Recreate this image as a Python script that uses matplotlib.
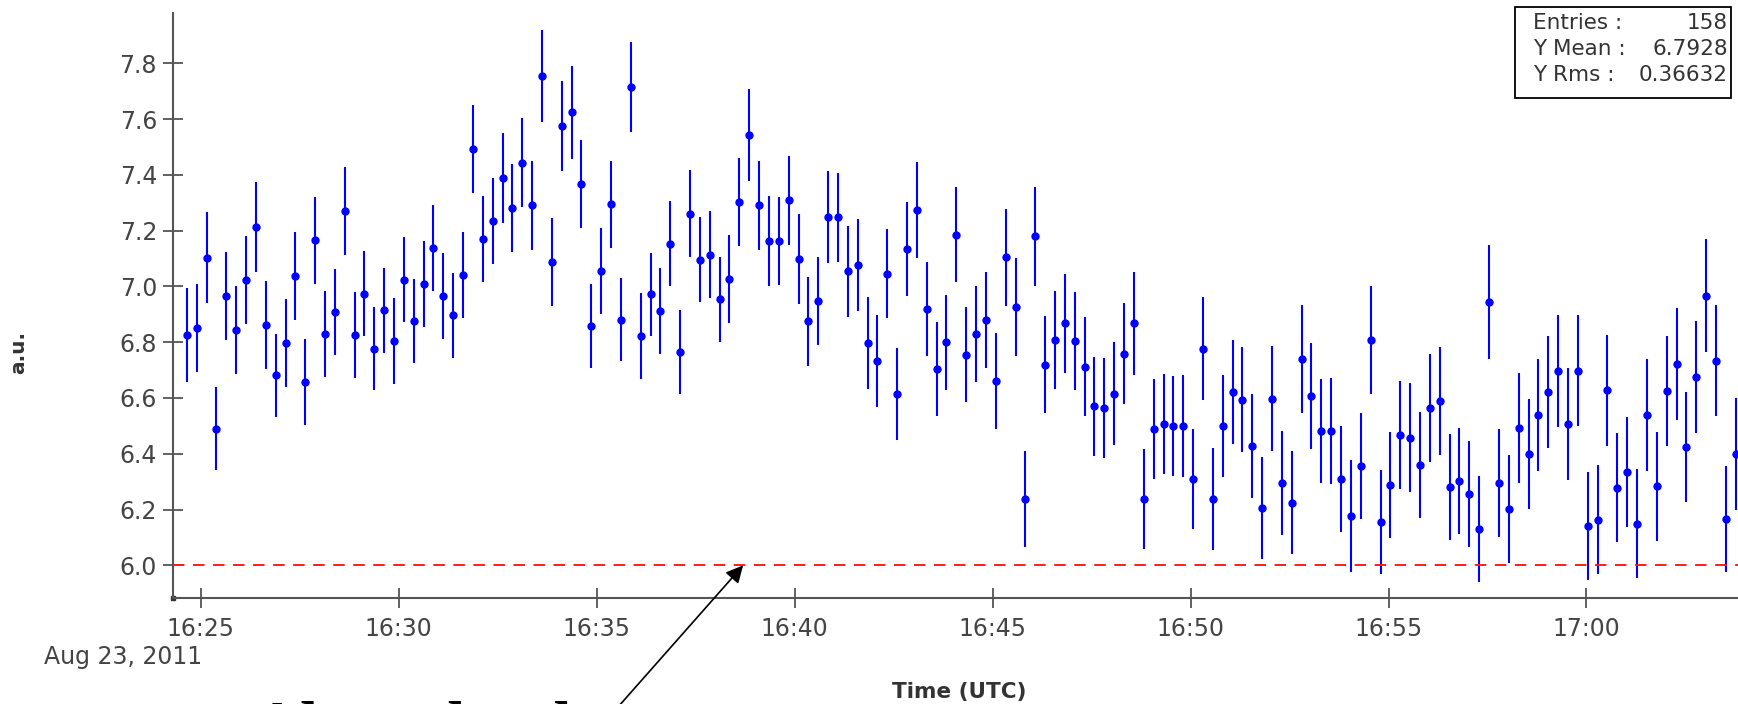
import numpy as np
import matplotlib
matplotlib.use("Agg")
import matplotlib.pyplot as plt
import matplotlib.dates as mdates
from matplotlib.patches import Rectangle
from matplotlib.ticker import MultipleLocator, FormatStrFormatter

# one sample roughly every 15 s starting at 16:24:39 UTC
t_start = np.datetime64("2011-08-23T16:24:39")
t_step = np.timedelta64(14950, "ms")

signal = [
    6.825, 6.851, 7.103, 6.490, 6.966, 6.843, 7.022, 7.213, 6.861, 6.681,
    6.798, 7.037, 6.656, 7.165, 6.828, 6.908, 7.269, 6.825, 6.974, 6.777,
    6.914, 6.803, 7.024, 6.876, 7.010, 7.138, 6.966, 6.896, 7.040, 7.493,
    7.169, 7.233, 7.390, 7.280, 7.444, 7.290, 7.754, 7.088, 7.575, 7.624,
    7.367, 6.857, 7.055, 7.294, 6.881, 7.715, 6.823, 6.972, 6.912, 7.153,
    6.765, 7.261, 7.096, 7.114, 6.954, 7.028, 7.302, 7.542, 7.290, 7.163,
    7.163, 7.308, 7.097, 6.875, 6.948, 7.249, 7.247, 7.054, 7.076, 6.797,
    6.734, 7.046, 6.615, 7.135, 7.273, 6.918, 6.705, 6.800, 7.186, 6.755,
    6.830, 6.878, 6.662, 7.104, 6.926, 6.239, 7.180, 6.720, 6.809, 6.867,
    6.803, 6.712, 6.570,
    6.564, 6.616, 6.759, 6.867, 6.239, 6.488, 6.508, 6.500, 6.500, 6.311,
    6.777, 6.237, 6.500, 6.621, 6.594, 6.428, 6.206, 6.598, 6.296, 6.225,
    6.741, 6.607, 6.483, 6.480, 6.311, 6.176, 6.356, 6.807, 6.155, 6.289,
    6.468, 6.458, 6.359, 6.564, 6.589, 6.281, 6.301, 6.256, 6.131, 6.944,
    6.296, 6.201, 6.494, 6.400, 6.540, 6.621, 6.697, 6.506, 6.698, 6.142,
    6.164, 6.627, 6.279, 6.335, 6.150, 6.540, 6.283, 6.624, 6.722, 6.423,
    6.675, 6.967, 6.734, 6.166, 6.399,
]

signal_err = [
    0.169, 0.158, 0.164, 0.149, 0.157, 0.157, 0.157, 0.160, 0.157, 0.149,
    0.158, 0.158, 0.154, 0.157, 0.154, 0.154, 0.158, 0.154, 0.152, 0.149,
    0.151, 0.154, 0.152, 0.151, 0.154, 0.154, 0.153, 0.153, 0.154, 0.158,
    0.154, 0.154, 0.161, 0.158, 0.161, 0.161, 0.166, 0.157, 0.161, 0.166,
    0.158, 0.151, 0.153, 0.157, 0.150, 0.161, 0.154, 0.149, 0.154, 0.153,
    0.149, 0.157, 0.152, 0.157, 0.153, 0.158, 0.157, 0.164, 0.160, 0.160,
    0.157, 0.161, 0.161, 0.160, 0.157, 0.164, 0.161, 0.164, 0.164, 0.165,
    0.165, 0.161, 0.165, 0.168, 0.172, 0.168, 0.168, 0.170, 0.171, 0.170,
    0.172, 0.172, 0.172, 0.175, 0.174, 0.172, 0.177, 0.175, 0.176, 0.177,
    0.176, 0.177, 0.178,
    0.179, 0.183, 0.182, 0.183, 0.179, 0.179, 0.179, 0.179, 0.182, 0.179,
    0.185, 0.182, 0.182, 0.186, 0.189, 0.186, 0.182, 0.189, 0.186, 0.186,
    0.194, 0.190, 0.186, 0.190, 0.190, 0.200, 0.190, 0.193, 0.186, 0.190,
    0.194, 0.194, 0.190, 0.194, 0.193, 0.190, 0.190, 0.190, 0.190, 0.204,
    0.194, 0.194, 0.197, 0.197, 0.200, 0.200, 0.200, 0.200, 0.200, 0.194,
    0.194, 0.200, 0.197, 0.197, 0.194, 0.200, 0.194, 0.197, 0.200, 0.197,
    0.200, 0.203, 0.200, 0.190, 0.200,
]

alarm_level = 6.0
arrow_time = np.datetime64("2011-08-23T16:38:42")

stats_labels = ["Entries :", "Y Mean :", "Y Rms :"]
stats_values = ["158", "6.7928", "0.36632"]

times = t_start + t_step * np.arange(len(signal))

W, H = 1738, 704
GREY = "#555555"


def fx(px):
    return px / W


def fy(py):
    return 1 - py / H


fig = plt.figure(figsize=(W / 100, H / 100), dpi=100)
ax = fig.add_axes([fx(173), fy(598), fx(1762 - 173), (598 - 13) / H])

ax.errorbar(times, signal, yerr=signal_err, fmt="o", color="#0000ff",
            ms=5, elinewidth=1.5, capsize=0)
ax.axhline(alarm_level, color="#ff1a1a", lw=1.4, dashes=(5.9, 4.4))

ax.set_xlim(np.datetime64("2011-08-23T16:24:18"),
            np.datetime64("2011-08-23T17:04:26"))
ax.set_ylim(5.883, 7.98)

ax.xaxis.set_major_locator(mdates.MinuteLocator(byminute=range(0, 60, 5)))
ax.xaxis.set_major_formatter(mdates.DateFormatter("%H:%M"))
ax.yaxis.set_major_locator(MultipleLocator(0.2))
ax.yaxis.set_major_formatter(FormatStrFormatter("%.1f"))

for side in ("top", "right"):
    ax.spines[side].set_visible(False)
for side in ("left", "bottom"):
    ax.spines[side].set_color(GREY)
    ax.spines[side].set_linewidth(1.5)

ax.tick_params(axis="both", direction="inout", length=15, width=1.3,
               color=GREY, labelcolor="#444444", labelsize=17)
ax.tick_params(axis="y", pad=4)
ax.tick_params(axis="x", pad=6)
ax.plot([0], [0], marker="s", ms=3.5, color="#333333",
        transform=ax.transAxes, clip_on=False)

fig.text(fx(202), fy(657), "Aug 23, 2011", ha="right", va="center",
         fontsize=17, color="#444444")
fig.text(fx(959), fy(692), "Time (UTC)", ha="center", va="center",
         fontsize=15.5, weight="bold", color="#333333")
fig.text(fx(19), fy(352), "a.u.", ha="center", va="center", rotation=90,
         fontsize=14.5, weight="bold", color="#333333")

# statistics box
fig.add_artist(Rectangle((fx(1515), fy(98)), (1731 - 1515) / W, (98 - 7) / H,
                         transform=fig.transFigure, facecolor="white",
                         edgecolor="black", lw=1.3))
for row, (lab, val) in enumerate(zip(stats_labels, stats_values)):
    yy = fy(23 + 26 * row)
    fig.text(fx(1533), yy, lab, ha="left", va="center", fontsize=15.5,
             color="#333333")
    fig.text(fx(1728), yy, val, ha="right", va="center", fontsize=15.5,
             color="#333333")

# annotation below the chart, cut by the lower edge as in the source image
fig.text(fx(254), fy(745), "Alarm level", ha="left", va="baseline",
         fontsize=46, weight="bold",
         family=["Liberation Serif", "DejaVu Serif"])
ax.annotate("", xy=(arrow_time, alarm_level), xycoords="data",
            xytext=(603, -20), textcoords="figure pixels",
            arrowprops=dict(arrowstyle="-|>", color="black", lw=1.2,
                            mutation_scale=26, shrinkA=0, shrinkB=0),
            annotation_clip=False)

fig.savefig("out.png", dpi=100)
